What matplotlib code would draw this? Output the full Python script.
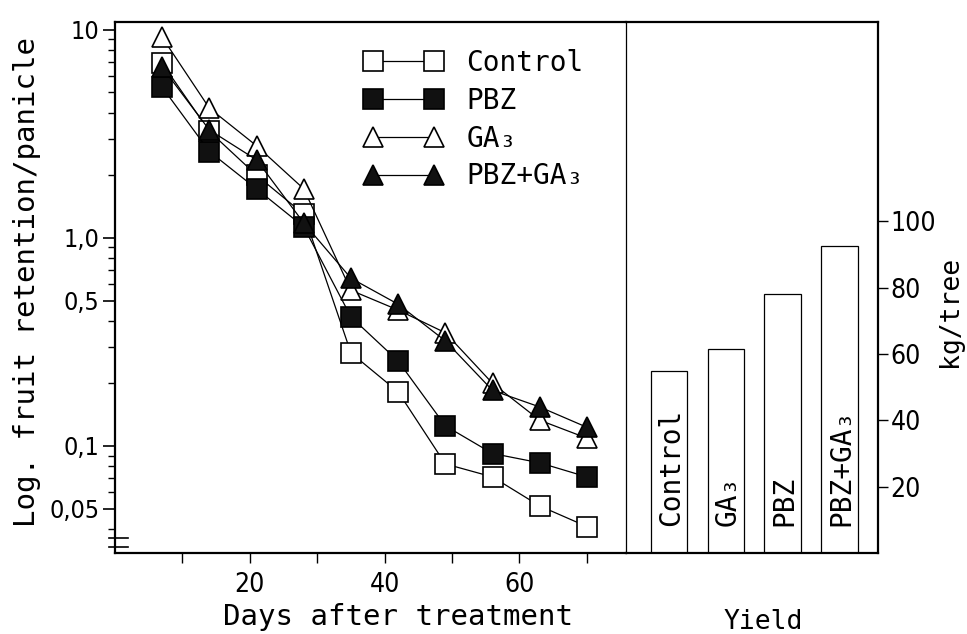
import matplotlib
matplotlib.use('Agg')
import matplotlib.pyplot as plt
from matplotlib.ticker import FixedLocator, FixedFormatter, LogLocator, NullFormatter

# fruit retention per panicle (log scale)
days = [7, 14, 21, 28, 35, 42, 49, 56, 63, 70]
control = [6.9, 3.25, 2.0, 1.30, 0.28, 0.182, 0.082, 0.071, 0.0515, 0.041]
pbz = [5.3, 2.6, 1.72, 1.13, 0.417, 0.256, 0.125, 0.092, 0.083, 0.071]
ga3 = [9.2, 4.2, 2.77, 1.72, 0.56, 0.45, 0.35, 0.20, 0.133, 0.109]
pbz_ga3 = [6.6, 3.3, 2.37, 1.18, 0.64, 0.48, 0.32, 0.185, 0.154, 0.123]

# yield, kg/tree
treatments = ['Control', 'GA₃', 'PBZ', 'PBZ+GA₃']
yield_kg = [54.7, 61.6, 77.9, 92.6]

ytick_vals = [10, 1.0, 0.5, 0.1, 0.05]
ytick_labels = ['10', '1,0', '0,5', '0,1', '0,05']
xtick_vals = [10, 20, 30, 40, 50, 60, 70]
xtick_labels = ['', '20', '', '40', '', '60', '']
ytick_right = [20, 40, 60, 80, 100]

mono = ['DejaVu Sans Mono', 'DejaVu Sans']


def narrow_ticks(labels, size):
    for lab in labels:
        lab.set_family('DejaVu Sans')
        lab.set_stretch('condensed')
        lab.set_fontsize(size)


fig = plt.figure(figsize=(9.67, 6.34), dpi=100)
W, H = 967, 634
ax1 = fig.add_axes([115 / W, (H - 553) / H, (626 - 115) / W, (553 - 22) / H])
ax2 = fig.add_axes([626 / W, (H - 553) / H, (878 - 626) / W, (553 - 22) / H])

ms = 14
lw = 0.9
ax1.plot(days, control, '-s', color='k', lw=lw, ms=ms, mfc='white', mec='k', mew=1.2, label='Control')
ax1.plot(days, pbz, '-s', color='k', lw=lw, ms=ms, mfc='#111111', mec='k', mew=1.2, label='PBZ')
ax1.plot(days, ga3, '-^', color='k', lw=lw, ms=ms + 1, mfc='white', mec='k', mew=1.2, label='GA₃')
ax1.plot(days, pbz_ga3, '-^', color='k', lw=lw, ms=ms + 1, mfc='#111111', mec='k', mew=1.2, label='PBZ+GA₃')

ax1.set_yscale('log')
ax1.set_ylim(0.0306, 10.9)
ax1.set_xlim(0, 75.8)

ax1.yaxis.set_major_locator(FixedLocator(ytick_vals))
ax1.yaxis.set_major_formatter(FixedFormatter(ytick_labels))
ax1.yaxis.set_minor_locator(LogLocator(base=10, subs=[2, 3, 4, 5, 6, 7, 8, 9]))
ax1.yaxis.set_minor_formatter(NullFormatter())
ax1.xaxis.set_major_locator(FixedLocator(xtick_vals))
ax1.xaxis.set_major_formatter(FixedFormatter(xtick_labels))

ax1.tick_params(axis='y', which='major', direction='out', length=9, width=1.2, pad=2)
ax1.tick_params(axis='y', which='minor', direction='out', length=5, width=1.0)
ax1.tick_params(axis='x', which='major', direction='out', length=7, width=1.0, pad=7)
narrow_ticks(ax1.get_yticklabels(), 18)
narrow_ticks(ax1.get_xticklabels(), 19)

for side in ['left', 'top', 'bottom']:
    ax1.spines[side].set_linewidth(1.6)
ax1.spines['right'].set_visible(False)

ax1.set_xlabel('Days after treatment', family=mono, fontsize=21)
ax1.xaxis.set_label_coords(0.554, -0.095)
ax1.set_ylabel('Log. fruit retention/panicle', family=mono, fontsize=21)
ax1.yaxis.set_label_coords(-0.145, 0.51)

# axis break on the left spine
ax1.plot([-0.012, 0.025], [0.028, 0.028], transform=ax1.transAxes, clip_on=False, color='k', lw=1.2)
ax1.plot([-0.012, 0.025], [0.011, 0.011], transform=ax1.transAxes, clip_on=False, color='k', lw=1.2)

leg = ax1.legend(loc='upper left', bbox_to_anchor=(0.462, 0.975), frameon=False, numpoints=2,
                 handlelength=2.8, handletextpad=0.85, labelspacing=0.35, borderpad=0,
                 prop={'family': mono, 'size': 20})

# yield bars
pos = list(range(len(treatments)))
ax2.bar(pos, yield_kg, width=0.64, color='white', edgecolor='k', linewidth=0.9)
for p, t in zip(pos, treatments):
    ax2.text(p + 0.03, 8, t, rotation=90, ha='center', va='bottom', family=mono, fontsize=20)
ax2.set_xlim(-0.76, 3.68)
ax2.set_ylim(0, 160)
ax2.set_xticks([])
ax2.yaxis.tick_right()
ax2.set_yticks(ytick_right)
ax2.tick_params(axis='y', direction='out', length=7, width=1.0, pad=2)
narrow_ticks(ax2.get_yticklabels(), 19)
ax2.spines['left'].set_linewidth(0.9)
for side in ['right', 'top', 'bottom']:
    ax2.spines[side].set_linewidth(1.6)
ax2.yaxis.set_label_position('right')
ax2.set_ylabel('kg/tree', family=mono, fontsize=19)
ax2.yaxis.set_label_coords(1.235, 0.454)
ax2.set_xlabel('Yield', family=mono, fontsize=19)
ax2.xaxis.set_label_coords(0.544, -0.105)

fig.savefig('out.png', dpi=100)
